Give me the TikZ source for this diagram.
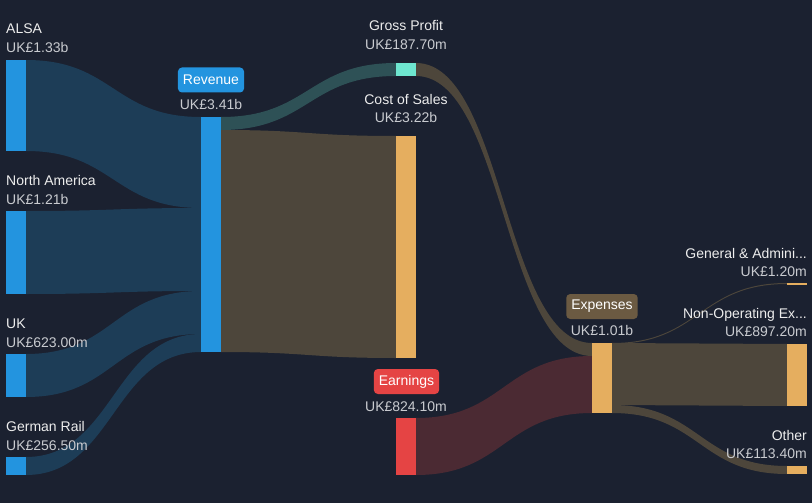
\documentclass[tikz,border=0pt]{standalone}
\usepackage{fontspec}
\setmainfont{Liberation Sans}

\definecolor{bg}{HTML}{1B2130}
\definecolor{blue}{HTML}{2394DF}
\definecolor{blueflow}{HTML}{1D3D57}
\definecolor{teal}{HTML}{6EE6CF}
\definecolor{tealflow}{HTML}{2E5156}
\definecolor{orange}{HTML}{E5AE5F}
\definecolor{brownflow}{HTML}{4D463B}
\definecolor{red}{HTML}{E54444}
\definecolor{redflow}{HTML}{4B2A33}
\definecolor{brownbox}{HTML}{6B5A42}
\definecolor{txt}{HTML}{EDEDED}
\definecolor{txtgray}{HTML}{C9CBD0}

\tikzset{
  lbl/.style={inner sep=0pt, text=txt, font=\fontsize{14}{16}\selectfont},
  val/.style={inner sep=0pt, text=txtgray, font=\fontsize{14}{16}\selectfont},
  tag/.style={rounded corners=4pt, inner xsep=5pt, inner ysep=0pt, minimum height=25pt,
    text=white, font=\fontsize{14}{16}\selectfont}
}

% band from (x1, t1..b1) to (x2, t2..b2)
\newcommand{\flow}[7]{%
  \fill[#7] (#1,#2) .. controls ({(#1+#4)/2},#2) and ({(#1+#4)/2},#5) .. (#4,#5)
    -- (#4,#6) .. controls ({(#1+#4)/2},#6) and ({(#1+#4)/2},#3) .. (#1,#3) -- cycle;}

\begin{document}
\begin{tikzpicture}[x=1pt,y=-1pt]
\fill[bg] (0,0) rectangle (812,503);
\useasboundingbox (0,0) rectangle (812,503);

% flows
\flow{26}{60}{151}{201}{117}{208}{blueflow}
\flow{26}{211}{294}{201}{208}{291}{blueflow}
\flow{26}{354}{397}{201}{291}{334}{blueflow}
\flow{26}{457}{475}{201}{334}{352}{blueflow}
\flow{221}{117}{130}{396}{63}{76}{tealflow}
\flow{221}{130}{352}{396}{136}{358}{brownflow}
\flow{416}{63}{76}{592}{343}{356}{brownflow}
\flow{416}{418}{475}{592}{356}{413}{redflow}
\flow{612}{343}{344}{787}{283}{284}{brownflow}
\flow{612}{343}{405}{787}{344}{406}{brownflow}
\flow{612}{405}{413}{787}{466}{474}{brownflow}

% bars
\fill[blue] (6,60) rectangle (26,151);
\fill[blue] (6,211) rectangle (26,294);
\fill[blue] (6,354) rectangle (26,397);
\fill[blue] (6,457) rectangle (26,475);
\fill[blue] (201,117) rectangle (221,352);
\fill[teal] (396,63) rectangle (416,76);
\fill[orange] (396,136) rectangle (416,358);
\fill[red] (396,418) rectangle (416,475);
\fill[orange] (592,343) rectangle (612,413);
\fill[orange] (787,283) rectangle (807,284.5);
\fill[orange] (787,344) rectangle (807,406);
\fill[orange] (787,466) rectangle (807,474);

% left labels
\node[lbl, anchor=base west] (alsa) at (6,34) {ALSA};
\node[val, anchor=base west] (alsav) at (6,53) {UK£1.33b};
\node[lbl, anchor=base west] (na) at (6,185) {North America};
\node[val, anchor=base west] (nav) at (6,204) {UK£1.21b};
\node[lbl, anchor=base west] (uk) at (6,328) {UK};
\node[val, anchor=base west] (ukv) at (6,347) {UK£623.00m};
\node[lbl, anchor=base west] (gr) at (6,431) {German Rail};
\node[val, anchor=base west] (grv) at (6,450) {UK£256.50m};

% middle labels
\node[tag, fill=blue] (rev) at (211,80) {Revenue};
\node[val, anchor=base] (revv) at (211,110) {UK£3.41b};
\node[lbl, anchor=base] (gp) at (406,31) {Gross Profit};
\node[val, anchor=base] (gpv) at (406,50) {UK£187.70m};
\node[lbl, anchor=base] (cos) at (406,105) {Cost of Sales};
\node[val, anchor=base] (cosv) at (406,123) {UK£3.22b};
\node[tag, fill=red] (earn) at (406.5,381.5) {Earnings};
\node[val, anchor=base] (earnv) at (406,411) {UK£824.10m};
\node[tag, fill=brownbox] (exp) at (602,306.5) {Expenses};
\node[val, anchor=base] (expv) at (602,335) {UK£1.01b};

% right labels
\node[lbl, anchor=base east] (ga) at (807,258) {General \& Admini...};
\node[val, anchor=base east] (gav) at (807,276) {UK£1.20m};
\node[lbl, anchor=base east] (nonop) at (807,318) {Non-Operating Ex...};
\node[val, anchor=base east] (nonopv) at (807,336) {UK£897.20m};
\node[lbl, anchor=base east] (other) at (807,440) {Other};
\node[val, anchor=base east] (otherv) at (807,458) {UK£113.40m};
\end{tikzpicture}
\end{document}
